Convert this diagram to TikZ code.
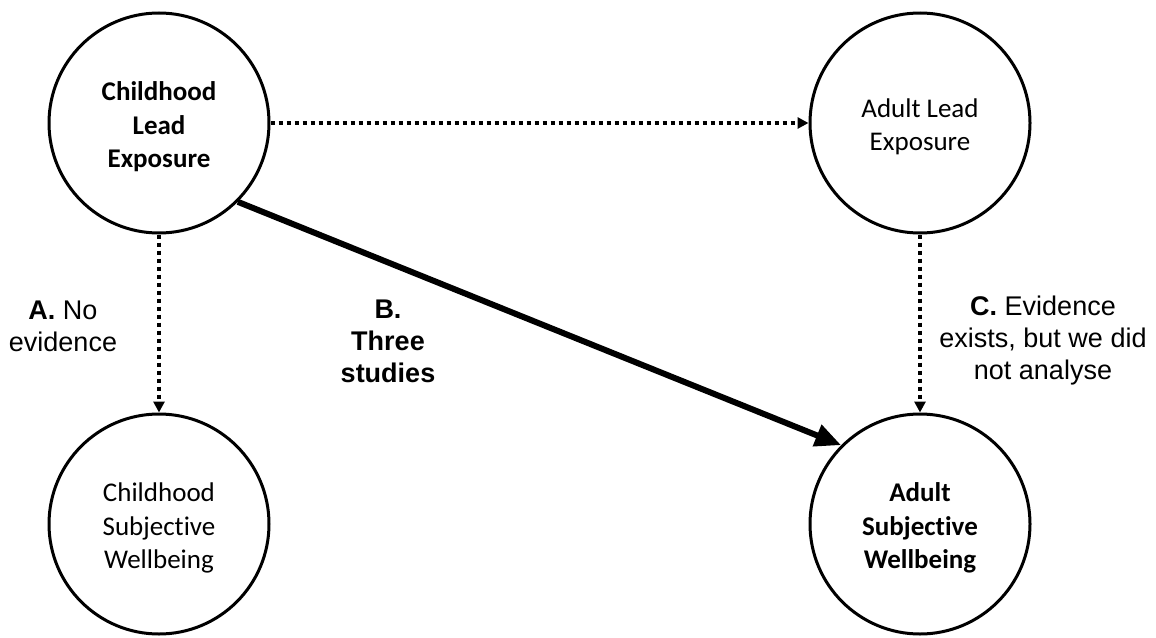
\documentclass[tikz,border=0pt]{standalone}
\usepackage{fontspec}
\setmainfont[Ligatures=NoCommon]{Carlito}
\newfontfamily\arialfont{Liberation Sans}
\usetikzlibrary{arrows.meta}
\begin{document}
\begin{tikzpicture}[x=1pt,y=-1pt,
  circ/.style={circle,draw=black,line width=3pt,minimum size=220pt,inner sep=0pt},
  ctext/.style={align=center,inner sep=0pt,yshift=-4pt,font=\fontsize{27}{33.5}\selectfont},
  lbl/.style={align=center,font=\arialfont\fontsize{27}{32}\selectfont},
  dotarrow/.style={line width=4pt,dash pattern=on 4pt off 4pt,-{Triangle[length=11pt,width=11pt]}},
  thickarrow/.style={line width=6pt,-{Triangle[length=26pt,width=22pt]}}]
\useasboundingbox (0,0) rectangle (1156,637);
\node[circ] (cle) at (159,123) {};
\node[circ] (ale) at (920,123) {};
\node[circ] (csw) at (159,524) {};
\node[circ] (asw) at (920,524) {};
\node[ctext] (clet) at (cle) {\textbf{Childhood}\\\textbf{Lead}\\\textbf{Exposure}};
\node[ctext] (alet) at (ale) {Adult Lead\\Exposure};
\node[ctext] (cswt) at (csw) {Childhood\\Subjective\\Wellbeing};
\node[ctext] (aswt) at (asw) {\textbf{Adult}\\\textbf{Subjective}\\\textbf{Wellbeing}};
\draw[dotarrow] (cle.east) -- (ale.west);
\draw[dotarrow] (cle.south) -- (csw.north);
\draw[dotarrow] (ale.south) -- (asw.north);
\draw[thickarrow] (cle.south east) -- (asw.north west);
\node[lbl] (la) at (63,326) {\textbf{A.} No\\evidence};
\node[lbl] (lb) at (388,341) {\textbf{B.}\\\textbf{Three}\\\textbf{studies}};
\node[lbl] (lc) at (1043,341) {\textbf{C.} Evidence\\exists, but we did\\not analyse};
\end{tikzpicture}
\end{document}
